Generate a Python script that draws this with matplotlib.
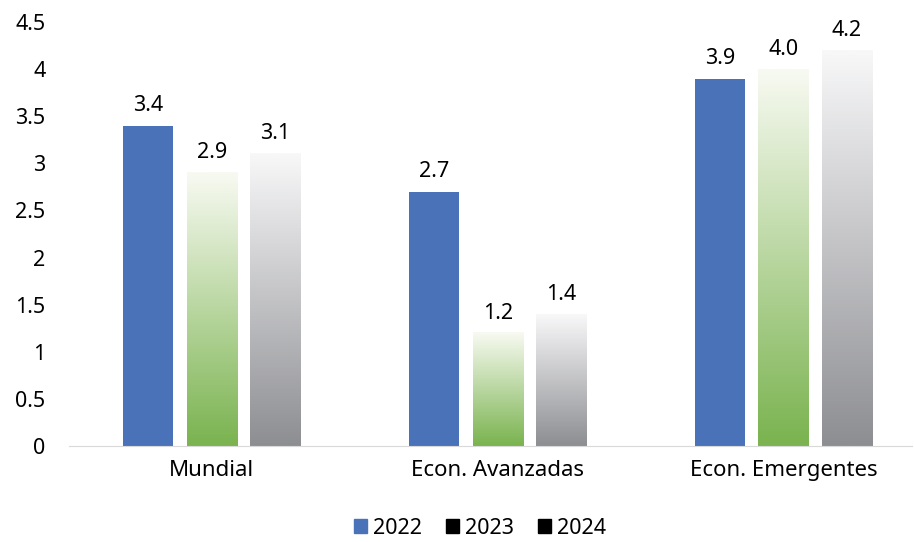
import numpy as np
import matplotlib.pyplot as plt
from matplotlib.colors import LinearSegmentedColormap
from matplotlib.patches import Patch

plt.rcParams['font.family'] = ['Noto Sans', 'DejaVu Sans']

categories = ['Mundial', 'Econ. Avanzadas', 'Econ. Emergentes']
years = ['2022', '2023', '2024']
v2022 = [3.4, 2.7, 3.9]
v2023 = [2.9, 1.2, 4.0]
v2024 = [3.1, 1.4, 4.2]

fig = plt.figure(figsize=(9.14, 5.42), dpi=100)
ax = fig.add_axes([69 / 914, 1 - 446 / 542, (912 - 69) / 914, 424 / 542])

x = np.arange(len(categories))
width = 0.175
offset = 0.222

green = LinearSegmentedColormap.from_list('g', ['#7ab34f', '#f8faf2'])
gray = LinearSegmentedColormap.from_list('k', ['#8d8e92', '#f8f8f9'])
grad = np.linspace(0, 1, 256).reshape(-1, 1)

ax.bar(x - offset, v2022, width, color='#4a72b8', zorder=2)
for i, (vals, cmap) in enumerate([(v2023, green), (v2024, gray)]):
    for xi, v in zip(x + offset * i, vals):
        ax.imshow(grad, cmap=cmap, origin='lower', aspect='auto',
                  extent=(xi - width / 2, xi + width / 2, 0, v), zorder=2)

for vals, dx in [(v2022, -offset), (v2023, 0), (v2024, offset)]:
    for xi, v in zip(x + dx, vals):
        ax.text(xi, v + 0.1, f'{v:.1f}', ha='center', va='bottom', fontsize=15.5)

ax.set_xlim(-0.5, 2.45)
ax.set_ylim(0, 4.5)
ax.set_yticks(np.arange(0, 4.51, 0.5))
ax.set_yticklabels(['0', '0.5', '1', '1.5', '2', '2.5', '3', '3.5', '4', '4.5'])
ax.set_xticks(x)
ax.set_xticklabels(categories)
ax.tick_params(axis='both', length=0, labelsize=15.5)
ax.tick_params(axis='x', pad=10, labelsize=16)
ax.tick_params(axis='y', pad=17)
for s in ['top', 'right', 'left']:
    ax.spines[s].set_visible(False)
ax.spines['bottom'].set_color('#d9d9d9')

handles = [Patch(color='#4a72b8'), Patch(color='black'), Patch(color='black')]
fig.legend(handles, years, loc='lower center', bbox_to_anchor=(0.525, -0.03), ncol=3,
           frameon=False, fontsize=15.5, handlelength=0.6, handleheight=0.6,
           handletextpad=0.3, columnspacing=1.1)

fig.savefig('out.png', dpi=100)
